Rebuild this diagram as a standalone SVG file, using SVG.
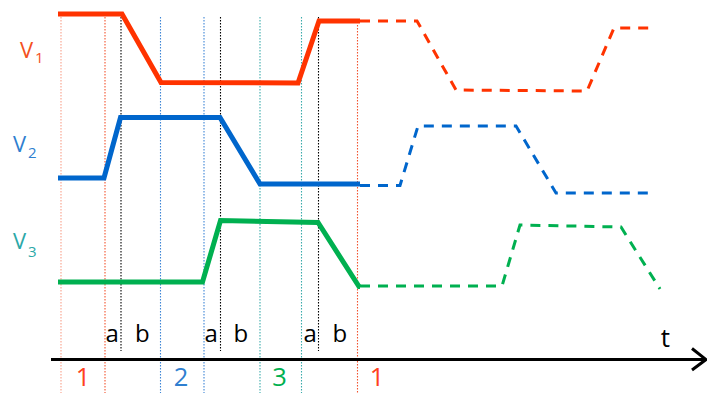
<svg xmlns="http://www.w3.org/2000/svg" width="707" height="393" viewBox="0 0 707 393">
<style>
.grid{fill:none;stroke-width:1.1;stroke-dasharray:1.5 1.5}
.sig{fill:none;stroke-width:5;stroke-linejoin:miter}
.dash{fill:none;stroke-width:3;stroke-dasharray:10 8}
text{font-family:"Open Sans","Noto Sans","Liberation Sans",sans-serif}
.lbl{font-size:22px}
.sub{font-size:15px}
.ph{font-size:24px;fill:#000}
.num{font-size:25.5px;text-anchor:middle}
</style>
<rect width="707" height="393" fill="#fff"/>
<g id="gridlines">
<line class="grid" x1="61" y1="17" x2="61" y2="393" stroke="#F7A08A"/>
<line class="grid" x1="105" y1="17" x2="105" y2="393" stroke="#F2532E"/>
<line class="grid" x1="121" y1="17" x2="121" y2="351" stroke="#000"/>
<line class="grid" x1="160.5" y1="17" x2="160.5" y2="393" stroke="#3D85D6"/>
<line class="grid" x1="204" y1="17" x2="204" y2="393" stroke="#3D85D6"/>
<line class="grid" x1="220.5" y1="17" x2="220.5" y2="351" stroke="#000"/>
<line class="grid" x1="260" y1="17" x2="260" y2="393" stroke="#3AABAB"/>
<line class="grid" x1="301.5" y1="17" x2="301.5" y2="393" stroke="#3AABAB"/>
<line class="grid" x1="318.5" y1="17" x2="318.5" y2="351" stroke="#000"/>
<line class="grid" x1="357.5" y1="25" x2="357.5" y2="393" stroke="#F2532E"/>
</g>
<g id="connectors">
<polyline class="sig" stroke="#FF3300" points="58,14 122,14 161,82.5 298,83 319,21 360,21"/>
<polyline class="dash" stroke="#FF3300" points="360,21 417,21 456,90 587,91 614,28 653,28"/>
<polyline class="sig" stroke="#0066CC" points="58,178 104,178 120.5,117.5 220,117.5 260,184 360,184"/>
<polyline class="dash" stroke="#0066CC" points="360,185.5 400,185.5 418,126 516,126 556,193 653,193"/>
<polyline class="sig" stroke="#00B050" points="58,282 202.5,282 220.5,220.5 318,222.5 359,286.5 360,286.5"/>
<polyline class="dash" stroke="#00B050" points="360,286 502,286 520,225 621,227 660,289"/>
<line x1="51" y1="359.5" x2="705" y2="359.5" stroke="#000" stroke-width="3"/>
<polyline points="692,348.5 706,359.5 692,370" fill="none" stroke="#000" stroke-width="3"/>
</g>
<g id="labels">
<text class="lbl" x="20" y="58" fill="#F4511E">V</text><text class="sub" x="35" y="63" fill="#F4511E">1</text>
<text class="lbl" x="13" y="152" fill="#2F7FD0">V</text><text class="sub" x="28" y="158" fill="#2F7FD0">2</text>
<text class="lbl" x="13" y="249" fill="#2BA8A8">V</text><text class="sub" x="28" y="257" fill="#2BA8A8">3</text>
<text class="ph" x="105.5" y="342">a</text><text class="ph" x="135" y="342">b</text>
<text class="ph" x="204.5" y="342">a</text><text class="ph" x="233.5" y="342">b</text>
<text class="ph" x="303.5" y="342">a</text><text class="ph" x="332.5" y="342">b</text>
<text class="num" x="83" y="386" fill="#FF4020">1</text>
<text class="num" x="181" y="386" fill="#2F7FD0">2</text>
<text class="num" x="279.5" y="386" fill="#00B050">3</text>
<text class="num" x="377" y="386" fill="#FF4020">1</text>
<text x="665.5" y="347" font-size="26" text-anchor="middle" fill="#000">t</text>
</g>
</svg>
